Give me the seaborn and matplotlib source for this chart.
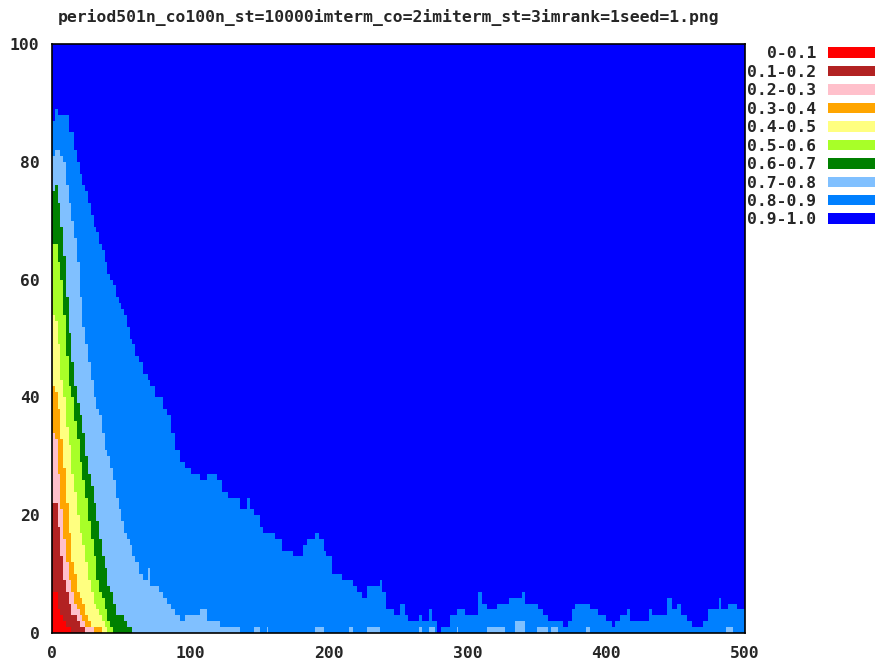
import numpy as np
import matplotlib
matplotlib.use('Agg')
import matplotlib.pyplot as plt
from matplotlib.patches import Patch
import seaborn as sns

sns.set_style('white')
plt.rcParams['font.family'] = ['DejaVu Sans Mono', 'DejaVu Sans']

title = 'period501n_co100n_st=10000imterm_co=2imiterm_st=3imrank=1seed=1.png'

band_labels = ['0-0.1', '0.1-0.2', '0.2-0.3', '0.3-0.4', '0.4-0.5',
               '0.5-0.6', '0.6-0.7', '0.7-0.8', '0.8-0.9', '0.9-1.0']
band_colors = ['#ff0000', '#b22222', '#ffc0cb', '#ffa500', '#ffff80',
               '#a8ff28', '#008000', '#80c0ff', '#0080ff', '#0000ff']

# upper edge (cumulative %) of each band, early periods
head_x = [0, 2, 4, 6, 8, 10, 12, 14, 16, 18, 20, 22, 24, 26, 28,
          30, 32, 34, 36, 38, 40, 42, 44, 46, 48, 50, 52, 54, 56, 58]
edge_01 = [7, 7, 4, 3, 2, 1, 1, 0, 0, 0, 0, 0, 0, 0, 0,
           0, 0, 0, 0, 0, 0, 0, 0, 0, 0, 0, 0, 0, 0, 0]
edge_02 = [22, 22, 18, 13, 9, 7, 5, 3, 3, 2, 1, 1, 0, 0, 0,
           0, 0, 0, 0, 0, 0, 0, 0, 0, 0, 0, 0, 0, 0, 0]
edge_03 = [34, 33, 27, 21, 16, 12, 9, 7, 5, 4, 3, 2, 1, 1, 1,
           0, 0, 0, 0, 0, 0, 0, 0, 0, 0, 0, 0, 0, 0, 0]
edge_04 = [42, 41, 38, 33, 28, 22, 17, 12, 10, 7, 6, 5, 3, 2, 1,
           1, 1, 1, 0, 0, 0, 0, 0, 0, 0, 0, 0, 0, 0, 0]
edge_05 = [54, 53, 49, 43, 40, 35, 32, 27, 24, 20, 17, 15, 12, 9, 7,
           5, 4, 3, 2, 1, 0, 0, 0, 0, 0, 0, 0, 0, 0, 0]
edge_06 = [66, 66, 63, 60, 54, 47, 42, 40, 36, 33, 29, 26, 23, 19, 16,
           13, 9, 7, 6, 4, 2, 1, 0, 0, 0, 0, 0, 0, 0, 0]
edge_07 = [75, 76, 73, 69, 64, 57, 51, 46, 42, 39, 37, 34, 30, 27, 25,
           22, 19, 16, 13, 11, 8, 7, 5, 3, 3, 3, 2, 1, 1, 0]
edge_08 = [81, 82, 82, 81, 80, 76, 73, 70, 67, 63, 57, 52, 49, 46, 43,
           40, 38, 37, 34, 31, 30, 28, 26, 23, 21, 19, 17, 16, 15, 13]
edge_09 = [87, 89, 88, 88, 88, 88, 85, 85, 82, 80, 78, 76, 75, 73, 71,
           69, 68, 66, 65, 63, 61, 60, 59, 57, 56, 55, 54, 52, 50, 49]

# later periods: only 0.7-0.8 and 0.8-0.9 left under the top band
tail_x = [60, 63, 66, 69, 71, 74, 77, 80, 83, 86, 89, 92, 96, 100, 104,
          107, 110, 112, 116, 119, 121, 123, 127, 131, 136, 139, 141, 143, 146, 150,
          152, 155, 156, 161, 166, 174, 181, 184, 190, 193, 196, 198, 202, 209, 214,
          217, 220, 224, 227, 237, 238, 241, 247, 251, 255, 257, 265, 267, 272, 274,
          276, 278, 281, 287, 292, 293, 298, 307, 310, 314, 321, 327, 330, 334, 339,
          341, 350, 351, 354, 358, 360, 365, 369, 372, 375, 377, 385, 388, 394, 400,
          404, 406, 410, 415, 417, 431, 433, 444, 447, 451, 454, 458, 462, 470, 473,
          481, 483, 486, 488, 491, 494, 500]
tail_edge_08 = [12, 10, 9, 11, 8, 8, 7, 6, 5, 4, 3, 2, 3, 3, 3,
                4, 4, 2, 2, 2, 1, 1, 1, 1, 0, 0, 0, 0, 1, 0,
                0, 1, 0, 0, 0, 0, 0, 0, 1, 1, 0, 0, 0, 0, 1,
                0, 0, 0, 1, 0, 0, 0, 0, 0, 0, 0, 1, 0, 1, 1,
                0, 0, 0, 0, 1, 0, 0, 0, 0, 1, 1, 0, 0, 2, 2,
                0, 1, 1, 1, 0, 1, 0, 0, 0, 0, 0, 1, 0, 0, 0,
                0, 0, 0, 0, 0, 0, 0, 0, 0, 0, 0, 0, 0, 0, 0,
                0, 0, 1, 1, 0, 0, 0]
tail_edge_09 = [47, 46, 44, 43, 42, 40, 40, 38, 37, 34, 31, 29, 28, 27, 27,
                26, 26, 27, 27, 26, 26, 24, 23, 23, 21, 21, 23, 21, 20, 18,
                17, 17, 17, 16, 14, 13, 15, 16, 17, 16, 14, 13, 10, 9, 9,
                8, 7, 6, 8, 9, 7, 4, 3, 5, 3, 2, 3, 2, 4, 2,
                2, 0, 1, 3, 4, 4, 3, 7, 5, 4, 5, 5, 6, 6, 7,
                5, 5, 4, 3, 2, 2, 2, 1, 2, 4, 5, 5, 4, 3, 2,
                1, 2, 3, 4, 2, 4, 3, 6, 4, 5, 3, 2, 1, 2, 4,
                6, 4, 4, 5, 5, 4, 4]

x = np.array(head_x + tail_x)
n_tail = len(tail_x)
edges = [edge_01, edge_02, edge_03, edge_04, edge_05, edge_06, edge_07]
edges = [np.array(e + [0] * n_tail) for e in edges]
edges.append(np.array(edge_08 + tail_edge_08))
edges.append(np.array(edge_09 + tail_edge_09))
edges.append(np.full(len(x), 100))

fig = plt.figure(figsize=(8.76, 6.63), dpi=100)
ax = fig.add_axes([52 / 876, 1 - 633 / 663, (745 - 52) / 876, (633 - 44) / 663])

# paint from the top band down so each lower band covers the one above
for i in range(9, -1, -1):
    ax.fill_between(x, 0, edges[i], step='post', color=band_colors[i], lw=0)

font_size = 11.8
ax.set_xlim(0, 500)
ax.set_ylim(0, 100)
ax.set_xticks(range(0, 501, 100))
ax.set_yticks(range(0, 101, 20))
ax.tick_params(length=0, labelsize=font_size, pad=9)
for lab in ax.get_xticklabels() + ax.get_yticklabels():
    lab.set_fontweight('bold')
for sp in ax.spines.values():
    sp.set_visible(True)
    sp.set_color('black')
    sp.set_linewidth(1.2)

handles = [Patch(facecolor=c, edgecolor='none') for c in band_colors]
leg = ax.legend(handles, band_labels, loc='upper left', bbox_to_anchor=(1.0, 1.0),
                frameon=False, markerfirst=False, handlelength=2.87, handleheight=0.61,
                handletextpad=0.67, labelspacing=0.21, borderaxespad=0.15, borderpad=0.0,
                prop={'family': 'DejaVu Sans Mono', 'weight': 'bold', 'size': font_size})
for col in leg._legend_handle_box.get_children():
    col.align = 'right'

fig.text(58 / 876, 1 - 18 / 663, title, ha='left', va='center',
         family='DejaVu Sans Mono', fontweight='bold', fontsize=font_size)

fig.savefig('out.png', dpi=100)
